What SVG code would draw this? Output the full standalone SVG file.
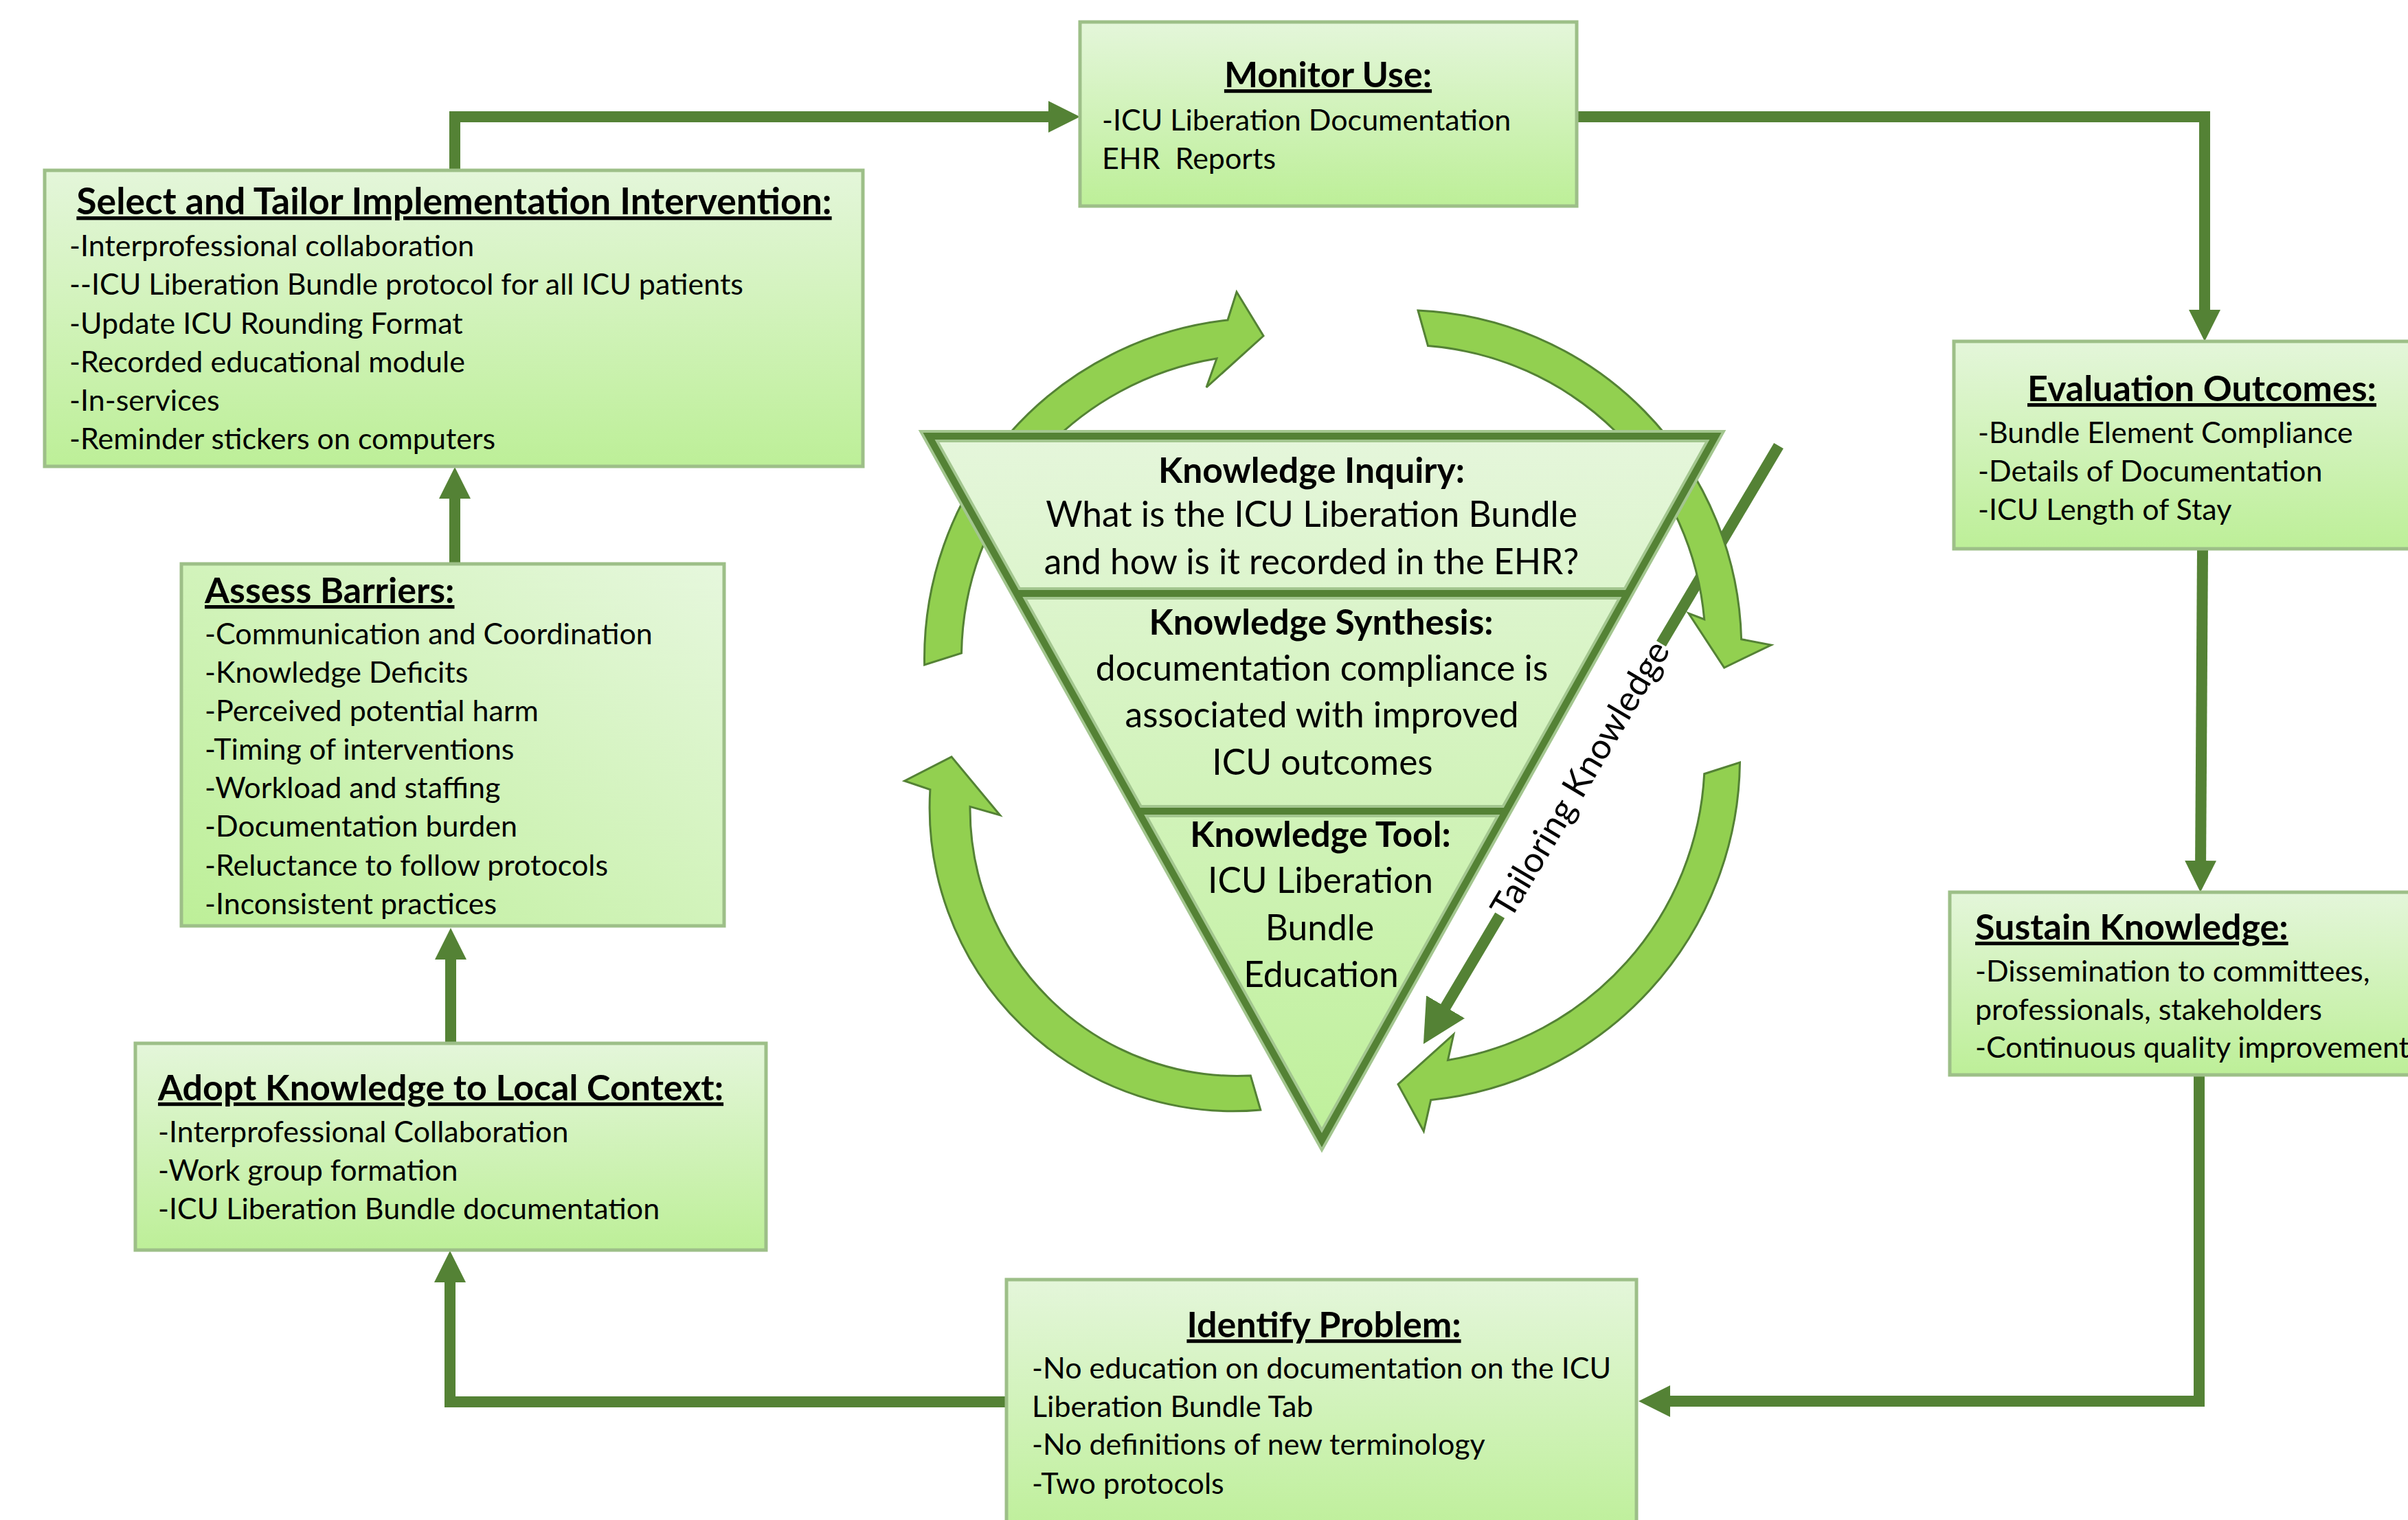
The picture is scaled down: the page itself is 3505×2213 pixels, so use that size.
<svg xmlns="http://www.w3.org/2000/svg" width="3505" height="2213" viewBox="0 0 3505 2213">
<style>
.bg{fill:#ffffff}
.box{stroke:#9dbf88;stroke-width:5}
.conn{fill:none;stroke:#548235;stroke-width:16}
.t{font-family:Lato,'Liberation Sans',sans-serif;font-size:43px;fill:#000}
.h{font-weight:700;font-size:52px;text-decoration:underline;text-decoration-thickness:5px}
.tri{font-family:Lato,'Liberation Sans',sans-serif;font-size:51.5px;fill:#000;text-anchor:middle}
.b{font-weight:700}
.circ{fill:#92d050;stroke:#548235;stroke-width:3;stroke-linejoin:miter}
.triOuter{fill:none;stroke:#a3c68f;stroke-width:18;stroke-linejoin:miter}
.triInner{fill:none;stroke:#548235;stroke-width:10;stroke-linejoin:miter}
</style>
<defs>
<linearGradient id="gv" x1="0" y1="0" x2="0" y2="1">
<stop offset="0" stop-color="#e4f6da"/>
<stop offset="1" stop-color="#bdef98"/>
</linearGradient>
<linearGradient id="gd" x1="1" y1="0" x2="0" y2="1">
<stop offset="0" stop-color="#e6f7dd"/>
<stop offset="1" stop-color="#bdef98"/>
</linearGradient>
<linearGradient id="gt" gradientUnits="userSpaceOnUse" x1="0" y1="635" x2="0" y2="1660">
<stop offset="0" stop-color="#e5f6db"/>
<stop offset="1" stop-color="#bff09b"/>
</linearGradient>
<marker id="ah" viewBox="0 0 46 46" markerWidth="46" markerHeight="46" refX="16" refY="23" orient="auto" markerUnits="userSpaceOnUse">
<path d="M0,0 L46,23 L0,46 Z" fill="#548235"/>
</marker>
<marker id="ah2" viewBox="0 0 63 65" markerWidth="63" markerHeight="65" refX="33" refY="32.5" orient="auto" markerUnits="userSpaceOnUse">
<path d="M0,0 L63,32.5 L0,65 Z" fill="#548235"/>
</marker>
</defs>
<rect class="bg" x="0" y="0" width="3505" height="2213"/>

<g id="connectors">
<path class="conn" d="M662 250 V170 H1542" marker-end="url(#ah)"/>
<path class="conn" d="M2295 170 H3209 V467" marker-end="url(#ah)"/>
<path class="conn" d="M3206 799 L3203 1269" marker-end="url(#ah)"/>
<path class="conn" d="M3201 1565 V2040 H2415" marker-end="url(#ah)"/>
<path class="conn" d="M1465 2041 H655 V1851" marker-end="url(#ah)"/>
<path class="conn" d="M656 1519 V1381" marker-end="url(#ah)"/>
<path class="conn" d="M662 821 V710" marker-end="url(#ah)"/>
</g>

<g id="monitor-use">
<rect class="box" x="1572" y="32" width="723" height="268" fill="url(#gv)"/>
<text class="t h" x="1933" y="127" text-anchor="middle">Monitor Use:</text>
<text class="t" x="1604" y="190">-ICU Liberation Documentation</text>
<text class="t" x="1604" y="246" xml:space="preserve">EHR  Reports</text>
</g>

<g id="select-tailor">
<rect class="box" x="65" y="248" width="1191" height="431" fill="url(#gv)"/>
<text class="t h" x="661" y="312" text-anchor="middle" style="font-size:53.5px">Select and Tailor Implementation Intervention:</text>
<text class="t" x="101" y="373">-Interprofessional collaboration</text>
<text class="t" x="101" y="429">--ICU Liberation Bundle protocol for all ICU patients</text>
<text class="t" x="101" y="486">-Update ICU Rounding Format</text>
<text class="t" x="101" y="542">-Recorded educational module</text>
<text class="t" x="101" y="598">-In-services</text>
<text class="t" x="101" y="654">-Reminder stickers on computers</text>
</g>

<g id="assess-barriers">
<rect class="box" x="264" y="821" width="790" height="527" fill="url(#gd)"/>
<text class="t h" x="298" y="878">Assess Barriers:</text>
<text class="t" x="298" y="938">-Communication and Coordination</text>
<text class="t" x="298" y="994">-Knowledge Deficits</text>
<text class="t" x="298" y="1050">-Perceived potential harm</text>
<text class="t" x="298" y="1106">-Timing of interventions</text>
<text class="t" x="298" y="1162">-Workload and staffing</text>
<text class="t" x="298" y="1218">-Documentation burden</text>
<text class="t" x="298" y="1275">-Reluctance to follow protocols</text>
<text class="t" x="298" y="1331">-Inconsistent practices</text>
</g>

<g id="adopt-knowledge">
<rect class="box" x="197" y="1519" width="918" height="301" fill="url(#gv)"/>
<text class="t h" x="230" y="1602">Adopt Knowledge to Local Context:</text>
<text class="t" x="230" y="1663">-Interprofessional Collaboration</text>
<text class="t" x="230" y="1719">-Work group formation</text>
<text class="t" x="230" y="1775">-ICU Liberation Bundle documentation</text>
</g>

<g id="identify-problem">
<rect class="box" x="1465" y="1863" width="917" height="380" fill="url(#gv)"/>
<text class="t h" x="1927" y="1947" text-anchor="middle">Identify Problem:</text>
<text class="t" x="1502" y="2007">-No education on documentation on the ICU</text>
<text class="t" x="1502" y="2063">Liberation Bundle Tab</text>
<text class="t" x="1502" y="2118">-No definitions of new terminology</text>
<text class="t" x="1502" y="2175">-Two protocols</text>
</g>

<g id="evaluation-outcomes">
<rect class="box" x="2844" y="497" width="700" height="302" fill="url(#gv)"/>
<text class="t h" x="2951" y="584">Evaluation Outcomes:</text>
<text class="t" x="2879" y="645">-Bundle Element Compliance</text>
<text class="t" x="2879" y="701">-Details of Documentation</text>
<text class="t" x="2879" y="757">-ICU Length of Stay</text>
</g>

<g id="sustain-knowledge">
<rect class="box" x="2838" y="1299" width="700" height="266" fill="url(#gv)"/>
<text class="t h" x="2875" y="1368">Sustain Knowledge:</text>
<text class="t" x="2875" y="1429">-Dissemination to committees,</text>
<text class="t" x="2875" y="1485">professionals, stakeholders</text>
<text class="t" x="2875" y="1540">-Continuous quality improvement</text>
</g>

<g id="tailoring-knowledge">
<path class="conn" d="M2589 649 L2418 937.1"/>
<path class="conn" d="M2183.2 1332.6 L2087.2 1494.3" marker-end="url(#ah2)"/>
<text class="tri" x="2298" y="1133" font-size="48" dominant-baseline="central" transform="rotate(-59.3 2298 1133)">Tailoring Knowledge</text>
</g>

<g id="cycle-arrows">
<path class="circ" d="M1345.6 968 A496 496 0 0 1 1787 466 L1800 425 L1839 489 L1756 564 L1771 522 A442 442 0 0 0 1399.5 951 Z"/>
<path class="circ" d="M2064 452 A492 492 0 0 1 2534.6 930.7 L2578 939 L2509.7 972 L2458 893 L2480.7 901.7 A438 438 0 0 0 2078.5 503.6 Z"/>
<path class="circ" d="M2532.5 1110 A500 500 0 0 1 2082.7 1601.4 L2072.3 1647 L2035 1578.6 L2115.8 1506 L2107.5 1543.4 A446 446 0 0 0 2480.7 1126.7 Z"/>
<path class="circ" d="M1834.8 1616 A442 442 0 0 1 1353.9 1149.5 L1316.6 1137 L1385 1101.8 L1455.5 1186.8 L1412 1174.4 A389 389 0 0 0 1820.3 1566 Z"/>
</g>

<g id="knowledge-triangle">
<path d="M1352 635 L2497 635 L1924 1660 Z" fill="url(#gt)"/>
<path class="triOuter" d="M1352 635 L2497 635 L1924 1660 Z"/>
<path class="triOuter" d="M1480 864 H2369 M1657 1181 H2192"/>
<path class="triInner" d="M1352 635 L2497 635 L1924 1660 Z"/>
<path class="triInner" d="M1480 864 H2369 M1657 1181 H2192"/>
<text class="tri b" x="1909" y="703">Knowledge Inquiry:</text>
<text class="tri" x="1909" y="767">What is the ICU Liberation Bundle</text>
<text class="tri" x="1909" y="836">and how is it recorded in the EHR?</text>
<text class="tri b" x="1923" y="924">Knowledge Synthesis:</text>
<text class="tri" x="1924" y="991">documentation compliance is</text>
<text class="tri" x="1924" y="1059">associated with improved</text>
<text class="tri" x="1925" y="1128">ICU outcomes</text>
<text class="tri b" x="1922" y="1233">Knowledge Tool:</text>
<text class="tri" x="1922" y="1300">ICU Liberation</text>
<text class="tri" x="1921" y="1369">Bundle</text>
<text class="tri" x="1923" y="1437">Education</text>
</g>
</svg>
